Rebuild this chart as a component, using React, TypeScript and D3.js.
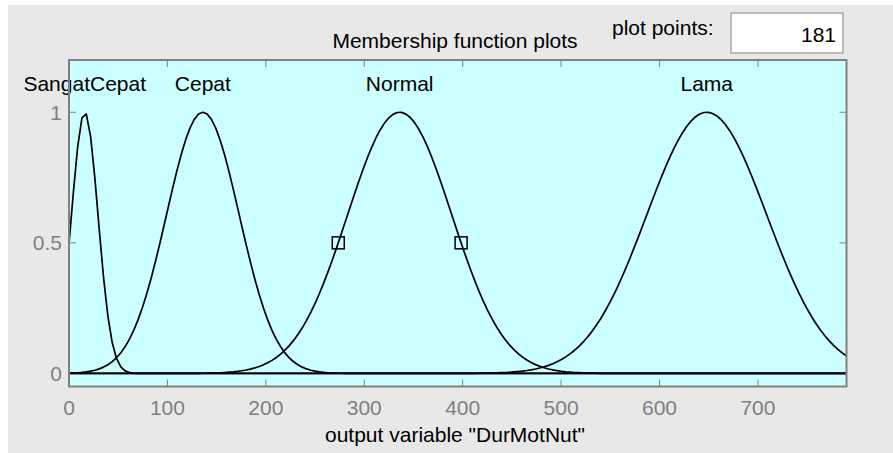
import React, { useEffect } from 'react';
import * as d3 from 'd3';

// membership functions of output variable "DurMotNut" (gaussmf: sigma, center)
const mfNames = ['SangatCepat', 'Cepat', 'Normal', 'Lama'];
const mfCenters = [16, 136, 336, 648];
const mfSigmas = [13.5, 37, 53, 61];
const selectedMf = 'Normal';

const varRange = [0, 790];
const plotPoints = 181;
const xTicks = [0, 100, 200, 300, 400, 500, 600, 700];
const yTicks = [0, 0.5, 1];
const yTickLabels = ['0', '0.5', '1'];

const W = 893;
const H = 453;
const box = { left: 69, top: 60, right: 846.5, bottom: 386.5 };
const font = '"Liberation Sans", Arial, sans-serif';
const grey = '#808080';

const gaussmf = (x: number, sigma: number, c: number) =>
  Math.exp(-((x - c) * (x - c)) / (2 * sigma * sigma));

const App = () => {
  useEffect(() => {
    document.body.style.margin = '0';
  }, []);

  const x = d3.scaleLinear().domain(varRange).range([box.left, box.right]);
  const y = d3.scaleLinear().domain([-0.05, 1.2]).range([box.bottom, box.top]);

  // sample the range the same way the toolbox does (plot points)
  const xs = d3.range(plotPoints).map(i => varRange[0] + (i * (varRange[1] - varRange[0])) / (plotPoints - 1));

  const line = d3.line<[number, number]>()
    .x(d => x(d[0]))
    .y(d => y(d[1]));

  const curves = mfNames.map((name, i) => ({
    name,
    c: mfCenters[i],
    s: mfSigmas[i],
    path: line(xs.map(v => [v, gaussmf(v, mfSigmas[i], mfCenters[i])] as [number, number])) || '',
  }));

  // square handles on the selected MF at half height
  const sel = curves.find(d => d.name === selectedMf)!;
  const half = sel.s * Math.sqrt(2 * Math.log(2));
  const handles = [sel.c - half, sel.c + half];

  const tickLen = 7;

  return (
    <svg width={W} height={H} style={{ position: 'fixed', left: 0, top: 0, display: 'block' }}>
      <rect x={0} y={0} width={W} height={H} fill="#ffffff" />
      <rect x={8} y={5} width={W - 8} height={H - 5} fill="#e8e8e8" />

      {/* header */}
      <text x={455} y={48} fontFamily={font} fontSize={21} textAnchor="middle" fill="#000">
        Membership function plots
      </text>
      <text x={612} y={35} fontFamily={font} fontSize={21} fill="#000">
        plot points:
      </text>
      <rect x={731} y={13} width={112} height={40} fill="#ffffff" stroke="#a8a8a8" strokeWidth={1.5} />
      <text x={836} y={42} fontFamily={font} fontSize={21} textAnchor="end" fill="#000">
        {plotPoints}
      </text>

      {/* axes box */}
      <rect x={box.left} y={box.top} width={box.right - box.left} height={box.bottom - box.top} fill="#ccffff" />

      {xTicks.map(t => (
        <g key={'xt' + t}>
          <line x1={x(t)} x2={x(t)} y1={box.bottom} y2={box.bottom - tickLen} stroke={grey} strokeWidth={1} />
          <line x1={x(t)} x2={x(t)} y1={box.top} y2={box.top + tickLen} stroke={grey} strokeWidth={1} />
          <text x={x(t)} y={415} fontFamily={font} fontSize={21} textAnchor="middle" fill={grey}>
            {t}
          </text>
        </g>
      ))}
      {yTicks.map((t, i) => (
        <g key={'yt' + t}>
          <line x1={box.left} x2={box.left + tickLen} y1={y(t)} y2={y(t)} stroke={grey} strokeWidth={1} />
          <line x1={box.right} x2={box.right - tickLen} y1={y(t)} y2={y(t)} stroke={grey} strokeWidth={1} />
          <text x={62} y={y(t) + 7.5} fontFamily={font} fontSize={21} textAnchor="end" fill={grey}>
            {yTickLabels[i]}
          </text>
        </g>
      ))}

      {curves.map(d => (
        <path key={d.name} d={d.path} fill="none" stroke="#000" strokeWidth={1.7} strokeLinejoin="round" />
      ))}

      {handles.map(h => (
        <rect key={'h' + h} x={x(h) - 6} y={y(0.5) - 6} width={12} height={12} fill="none" stroke="#000" strokeWidth={1.5} />
      ))}

      {curves.map(d => (
        <text key={'lbl' + d.name} x={x(d.c)} y={y(1.08)} fontFamily={font} fontSize={21} textAnchor="middle" fill="#000">
          {d.name}
        </text>
      ))}

      <rect x={box.left} y={box.top} width={box.right - box.left} height={box.bottom - box.top} fill="none" stroke={grey} strokeWidth={2} />

      <text x={455} y={442} fontFamily={font} fontSize={21} textAnchor="middle" fill="#000">
        output variable "DurMotNut"
      </text>
    </svg>
  );
};

export default App;
